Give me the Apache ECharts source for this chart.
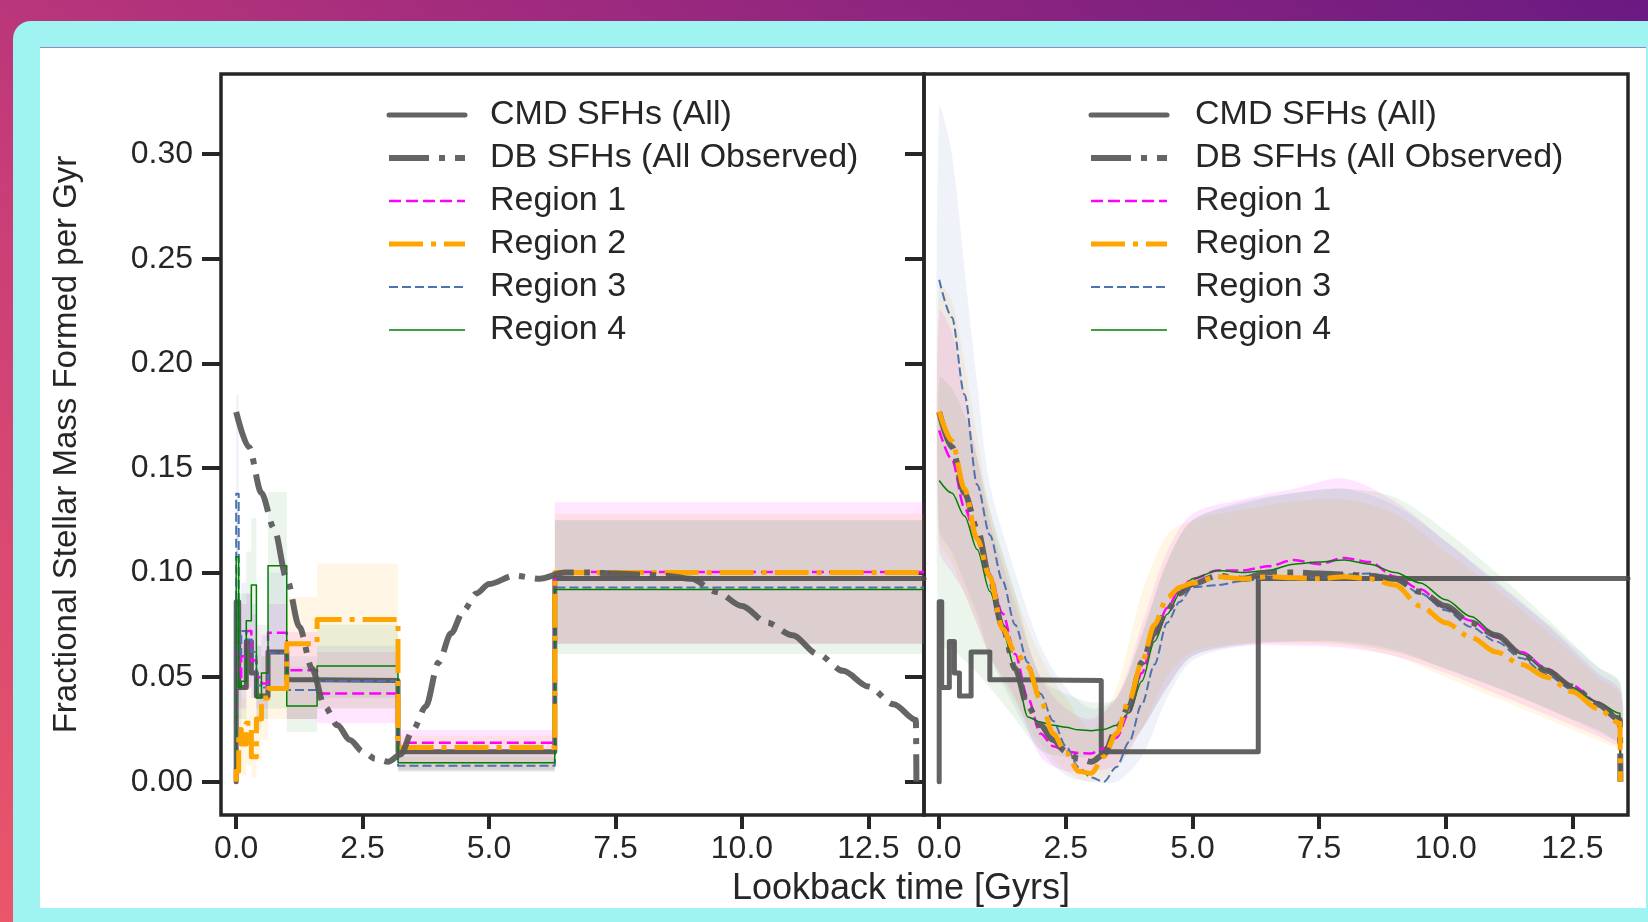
<!DOCTYPE html>
<html><head><meta charset="utf-8">
<script src="https://cdn.jsdelivr.net/npm/echarts@6.0.0/dist/echarts.min.js"></script>
<style>
html,body{margin:0;padding:0;width:1648px;height:922px;overflow:hidden;}
body{position:relative;background:linear-gradient(to top right,#ea566a 0%,#c93d78 40%,#a12b7e 65%,#6a1a82 100%);}
#card{position:absolute;left:13px;top:21px;right:0;bottom:0;background:#9ff4f1;border-top-left-radius:18px;}
#paper{position:absolute;left:40px;top:47px;width:1606px;height:861px;background:#fff;border-top:1px solid #9b86c4;box-sizing:border-box;}
#chart{position:absolute;left:0;top:0;width:1648px;height:922px;}
</style></head><body>
<div id="card"></div><div id="paper"></div><div id="chart"></div>
<script>
// ---------- data ----------
const yTicks = [0, 0.05, 0.10, 0.15, 0.20, 0.25, 0.30];
const xTicks = [0, 2.5, 5, 7.5, 10, 12.5];
const legendNames = ['CMD SFHs (All)', 'DB SFHs (All Observed)', 'Region 1', 'Region 2', 'Region 3', 'Region 4'];
const xTitle = 'Lookback time [Gyrs]';
const yTitle = 'Fractional Stellar Mass Formed per Gyr';

// CMD star formation histories: bin edges (Gyr) and value per bin
const binEdges = [0, 0.05, 0.1, 0.2, 0.3, 0.4, 0.5, 0.63, 1.0, 1.6, 3.2, 6.3, 13.6];
const cmdAll = [0.086, 0.045, 0.045, 0.067, 0.052, 0.041, 0.041, 0.062, 0.0488, 0.0484, 0.0143, 0.0972];
const cmdRegion1 = [0.065, 0.05, 0.06, 0.072, 0.058, 0.05, 0.047, 0.0712, 0.0533, 0.0422, 0.0186, 0.1003];
const cmdRegion2 = [0.005, 0.025, 0.018, 0.028, 0.012, 0.03, 0.04, 0.0446, 0.066, 0.0776, 0.0164, 0.100];
const cmdRegion3 = [0.1377, 0.06, 0.072, 0.068, 0.062, 0.046, 0.045, 0.0616, 0.0438, 0.0481, 0.0077, 0.0928];
const cmdRegion4 = [0.1075, 0.045, 0.048, 0.077, 0.094, 0.040, 0.052, 0.1032, 0.0362, 0.0553, 0.0091, 0.0919];
const cmdBand1Lo = [0.0, 0.03, 0.035, 0.045, 0.04, 0.035, 0.035, 0.045, 0.03, 0.0279, 0.0056, 0.066];
const cmdBand1Hi = [0.09, 0.08, 0.085, 0.09, 0.08, 0.075, 0.07, 0.085, 0.0716, 0.062, 0.0247, 0.1336];
const cmdBand2Lo = [0.0, 0.005, 0.003, 0.008, 0.002, 0.01, 0.02, 0.03, 0.03, 0.035, 0.006, 0.066];
const cmdBand2Hi = [0.03, 0.045, 0.04, 0.05, 0.04, 0.05, 0.06, 0.06, 0.0883, 0.1043, 0.022, 0.128];
const cmdBand3Lo = [0.03, 0.035, 0.045, 0.045, 0.04, 0.03, 0.03, 0.045, 0.03, 0.035, 0.0048, 0.066];
const cmdBand3Hi = [0.185, 0.09, 0.095, 0.09, 0.085, 0.065, 0.06, 0.1, 0.06, 0.065, 0.012, 0.125];
const cmdBand4Lo = [0.02, 0.025, 0.03, 0.05, 0.055, 0.025, 0.03, 0.035, 0.0239, 0.04, 0.005, 0.061];
const cmdBand4Hi = [0.13, 0.07, 0.09, 0.11, 0.126, 0.065, 0.075, 0.1385, 0.055, 0.075, 0.013, 0.125];

// DB (smooth) star formation histories
const dbTime = [0, 0.25, 0.5, 0.75, 1.0, 1.25, 1.5, 1.75, 2.0, 2.25, 2.5, 2.75, 3.0, 3.25, 3.5, 3.75, 4.0, 4.25, 4.5, 4.75, 5.0, 5.5, 6.0, 6.5, 7.0, 7.5, 8.0, 8.5, 9.0, 9.5, 10.0, 10.5, 11.0, 11.5, 12.0, 12.5, 13.0, 13.44, 13.45];
const dbAll = [0.1767, 0.160, 0.138, 0.121, 0.097, 0.074, 0.054, 0.036, 0.027, 0.020, 0.0145, 0.011, 0.0095, 0.013, 0.025, 0.036, 0.057, 0.071, 0.082, 0.090, 0.0945, 0.0985, 0.097, 0.100, 0.100, 0.0995, 0.099, 0.0985, 0.097, 0.0907, 0.084, 0.076, 0.070, 0.061, 0.053, 0.0455, 0.037, 0.0295, 0];
const dbRegion1 = [0.168, 0.154, 0.131, 0.115, 0.099, 0.0805, 0.061, 0.040, 0.023, 0.017, 0.0145, 0.0137, 0.0135, 0.016, 0.021, 0.033, 0.052, 0.070, 0.083, 0.092, 0.097, 0.101, 0.101, 0.103, 0.106, 0.104, 0.107, 0.105, 0.098, 0.092, 0.083, 0.077, 0.069, 0.062, 0.054, 0.046, 0.038, 0.031, 0];
const dbRegion2 = [0.177, 0.163, 0.140, 0.116, 0.098, 0.073, 0.062, 0.055, 0.039, 0.023, 0.014, 0.005, 0.004, 0.012, 0.023, 0.039, 0.057, 0.075, 0.088, 0.093, 0.095, 0.098, 0.097, 0.098, 0.0975, 0.097, 0.098, 0.097, 0.094, 0.084, 0.076, 0.069, 0.062, 0.056, 0.050, 0.043, 0.035, 0.028, 0];
const dbRegion3 = [0.240, 0.222, 0.185, 0.142, 0.118, 0.096, 0.075, 0.057, 0.042, 0.029, 0.017, 0.007, 0.002, 0.0, 0.007, 0.019, 0.037, 0.056, 0.076, 0.086, 0.093, 0.094, 0.096, 0.0975, 0.098, 0.0977, 0.099, 0.0995, 0.097, 0.090, 0.082, 0.074, 0.067, 0.059, 0.051, 0.044, 0.038, 0.031, 0];
const dbRegion4 = [0.144, 0.138, 0.127, 0.111, 0.091, 0.0724, 0.054, 0.031, 0.0285, 0.027, 0.026, 0.0248, 0.0244, 0.025, 0.027, 0.033, 0.048, 0.067, 0.080, 0.090, 0.097, 0.101, 0.100, 0.101, 0.104, 0.105, 0.106, 0.104, 0.100, 0.095, 0.087, 0.079, 0.070, 0.061, 0.053, 0.045, 0.038, 0.0327, 0];

// DB uncertainty bands
const bandTime = [0, 0.25, 0.5, 0.75, 1.0, 1.5, 2.0, 2.5, 3.0, 3.5, 4.0, 4.5, 5.0, 6.0, 7.0, 8.0, 9.0, 10.0, 11.0, 12.0, 13.0, 13.44];
const dbBand1Hi = [0.225, 0.215, 0.185, 0.155, 0.125, 0.085, 0.05, 0.035, 0.03, 0.04, 0.075, 0.11, 0.128, 0.135, 0.14, 0.145, 0.134, 0.115, 0.095, 0.075, 0.052, 0.044];
const dbBand1Lo = [0.11, 0.1, 0.09, 0.075, 0.06, 0.04, 0.012, 0.005, 0.005, 0.008, 0.025, 0.045, 0.06, 0.065, 0.065, 0.064, 0.06, 0.052, 0.042, 0.032, 0.022, 0.018];
const dbBand2Hi = [0.237, 0.23, 0.2, 0.165, 0.13, 0.09, 0.06, 0.04, 0.025, 0.045, 0.09, 0.118, 0.125, 0.13, 0.134, 0.135, 0.128, 0.11, 0.092, 0.072, 0.05, 0.042];
const dbBand2Lo = [0.115, 0.105, 0.09, 0.075, 0.06, 0.038, 0.018, 0.005, 0.0, 0.006, 0.025, 0.05, 0.062, 0.066, 0.066, 0.065, 0.06, 0.05, 0.04, 0.03, 0.02, 0.017];
const dbBand3Hi = [0.322, 0.30, 0.245, 0.19, 0.142, 0.1, 0.065, 0.045, 0.035, 0.04, 0.07, 0.105, 0.125, 0.134, 0.138, 0.14, 0.132, 0.115, 0.096, 0.076, 0.055, 0.048];
const dbBand3Lo = [0.12, 0.11, 0.095, 0.08, 0.06, 0.035, 0.015, 0.003, 0.0, 0.0, 0.012, 0.04, 0.058, 0.065, 0.067, 0.067, 0.063, 0.054, 0.045, 0.035, 0.024, 0.02];
const dbBand4Hi = [0.193, 0.188, 0.175, 0.155, 0.13, 0.09, 0.05, 0.042, 0.038, 0.04, 0.07, 0.105, 0.125, 0.133, 0.138, 0.14, 0.136, 0.12, 0.1, 0.078, 0.055, 0.047];
const dbBand4Lo = [0.065, 0.063, 0.058, 0.052, 0.045, 0.03, 0.015, 0.012, 0.012, 0.014, 0.025, 0.045, 0.06, 0.066, 0.067, 0.066, 0.062, 0.054, 0.045, 0.035, 0.025, 0.02];

// ---------- styles ----------
const FONT = "'Liberation Sans', Arial, Helvetica, sans-serif";
const TXT = '#262626';
const ST = {
  cmd: { color: 'rgba(72,72,72,0.85)', width: 5, type: 'solid', cap: 'round' },
  db:  { color: 'rgba(88,88,88,0.92)', width: 6, type: [40, 10, 6, 10] },
  r1:  { color: '#ff00ff', width: 2.5, type: [12, 5] },
  r2:  { color: '#ffa500', width: 5, type: [34, 8, 5, 8] },
  r3:  { color: '#4c72b0', width: 2, type: [9, 4] },
  r4:  { color: '#008000', width: 1.5, type: 'solid' }
};
const BAND = {
  r1: 'rgba(255,0,255,0.10)', r2: 'rgba(255,165,0,0.10)',
  r3: 'rgba(76,114,176,0.09)', r4: 'rgba(0,128,0,0.08)'
};

// ---------- helpers ----------
function steps(edges, vals) {
  const pts = [[edges[0], 0]];
  for (let i = 0; i < vals.length; i++) { pts.push([edges[i], vals[i]]); pts.push([edges[i + 1], vals[i]]); }
  return pts;
}
function stepBand(edges, lo, hi) {
  const up = [], dn = [];
  for (let i = 0; i < lo.length; i++) {
    up.push([edges[i], hi[i]], [edges[i + 1], hi[i]]);
    dn.push([edges[i], lo[i]], [edges[i + 1], lo[i]]);
  }
  return up.concat(dn.reverse());
}
function curveBand(t, lo, hi) {
  const up = t.map((x, i) => [x, hi[i]]);
  const dn = t.map((x, i) => [x, lo[i]]).reverse();
  return up.concat(dn);
}
function zip(t, v) { return t.map((x, i) => [x, v[i]]); }

function lineSeries(name, axis, data, st, extra) {
  return Object.assign({
    type: 'line', name: name, xAxisIndex: axis, yAxisIndex: axis, data: data,
    symbol: 'none', showSymbol: false, silent: true, clip: true, z: 3,
    lineStyle: { color: st.color, width: st.width, type: st.type, cap: st.cap || 'butt', join: 'round' },
    itemStyle: { color: st.color }
  }, extra || {});
}
function bandSeries(name, axis, poly, fill, smooth) {
  return {
    type: 'custom', name: name, xAxisIndex: axis, yAxisIndex: axis, silent: true, clip: true, z: 1,
    data: [[poly[0][0], poly[0][1]]],
    renderItem: function (params, api) {
      return {
        type: 'polygon',
        shape: { points: poly.map(p => api.coord(p)), smooth: smooth },
        style: { fill: fill, stroke: null }
      };
    }
  };
}

const series = [
  // left panel: CMD bands
  bandSeries('band L1', 0, stepBand(binEdges, cmdBand1Lo, cmdBand1Hi), BAND.r1, 0),
  bandSeries('band L2', 0, stepBand(binEdges, cmdBand2Lo, cmdBand2Hi), BAND.r2, 0),
  bandSeries('band L3', 0, stepBand(binEdges, cmdBand3Lo, cmdBand3Hi), BAND.r3, 0),
  bandSeries('band L4', 0, stepBand(binEdges, cmdBand4Lo, cmdBand4Hi), BAND.r4, 0),
  lineSeries(legendNames[0], 0, steps(binEdges, cmdAll), ST.cmd, { z: 2 }),
  lineSeries(legendNames[2], 0, steps(binEdges, cmdRegion1), ST.r1),
  lineSeries(legendNames[3], 0, steps(binEdges, cmdRegion2), ST.r2, { z: 4 }),
  lineSeries(legendNames[4], 0, steps(binEdges, cmdRegion3), ST.r3),
  lineSeries(legendNames[5], 0, steps(binEdges, cmdRegion4), ST.r4),
  lineSeries(legendNames[1], 0, zip(dbTime, dbAll), ST.db, { z: 5, smooth: 0.3, smoothMonotone: 'x' }),
  // right panel: DB bands
  bandSeries('band R1', 1, curveBand(bandTime, dbBand1Lo, dbBand1Hi), BAND.r1, 0.3),
  bandSeries('band R2', 1, curveBand(bandTime, dbBand2Lo, dbBand2Hi), BAND.r2, 0.3),
  bandSeries('band R3', 1, curveBand(bandTime, dbBand3Lo, dbBand3Hi), BAND.r3, 0.3),
  bandSeries('band R4', 1, curveBand(bandTime, dbBand4Lo, dbBand4Hi), BAND.r4, 0.3),
  lineSeries(legendNames[0], 1, steps(binEdges, cmdAll), ST.cmd, { z: 2 }),
  lineSeries(legendNames[2], 1, zip(dbTime, dbRegion1), ST.r1, { smooth: 0.3, smoothMonotone: 'x' }),
  lineSeries(legendNames[3], 1, zip(dbTime, dbRegion2), ST.r2, { z: 4, smooth: 0.3, smoothMonotone: 'x' }),
  lineSeries(legendNames[4], 1, zip(dbTime, dbRegion3), ST.r3, { smooth: 0.3, smoothMonotone: 'x' }),
  lineSeries(legendNames[5], 1, zip(dbTime, dbRegion4), ST.r4, { smooth: 0.3, smoothMonotone: 'x' }),
  lineSeries(legendNames[1], 1, zip(dbTime, dbAll), ST.db, { z: 3, smooth: 0.3, smoothMonotone: 'x' })
];

function legendAt(left, padLeft) {
  return {
    data: legendNames, orient: 'vertical', left: left, top: 98, padding: 0,
    itemWidth: 76, itemHeight: 14, itemGap: 9, selectedMode: false,
    itemStyle: { opacity: 0 },
    lineStyle: { width: 'inherit', opacity: 1 },
    textStyle: { fontSize: 34, fontFamily: FONT, color: TXT, lineHeight: 33, padding: [0, 0, 0, padLeft] }
  };
}
function xAx(i) {
  return {
    type: 'value', gridIndex: i, min: -0.3, max: 13.6,
    axisLine: { show: false, onZero: false }, splitLine: { show: false },
    axisTick: { show: true, inside: false, length: 14, lineStyle: { color: TXT, width: 4 }, customValues: xTicks },
    axisLabel: { show: true, margin: 18, fontSize: 32, fontFamily: FONT, color: TXT, customValues: xTicks,
      formatter: v => Number(v).toFixed(1) }
  };
}
function yAx(i) {
  const a = {
    type: 'value', gridIndex: i, min: -0.0159, max: 0.3383,
    axisLine: { show: false, onZero: false }, splitLine: { show: false },
    axisTick: { show: true, inside: false, length: 19, lineStyle: { color: TXT, width: 4 }, customValues: yTicks },
    axisLabel: { show: i === 0, margin: 28, fontSize: 32, fontFamily: FONT, color: TXT, customValues: yTicks,
      formatter: v => Number(v).toFixed(2) }
  };
  if (i === 0) {
    a.name = yTitle; a.nameLocation = 'middle'; a.nameGap = 138; a.nameRotate = 90;
    a.nameTextStyle = { fontSize: 33, fontFamily: FONT, color: TXT };
  }
  return a;
}

const option = {
  backgroundColor: 'transparent',
  animation: false,
  title: { text: xTitle, left: 901, top: 871, textAlign: 'center', padding: 0,
    textStyle: { fontSize: 36, fontWeight: 'normal', fontFamily: FONT, color: TXT, lineHeight: 36 } },
  legend: [legendAt(386, 20), legendAt(1088, 23)],
  grid: [
    { left: 221, top: 74, width: 703, height: 741, show: true, borderColor: TXT, borderWidth: 3.5, backgroundColor: 'transparent' },
    { left: 924, top: 74, width: 704, height: 741, show: true, borderColor: TXT, borderWidth: 3.5, backgroundColor: 'transparent' }
  ],
  xAxis: [xAx(0), xAx(1)],
  yAxis: [yAx(0), yAx(1)],
  series: series
};

const chart = echarts.init(document.getElementById('chart'), null, { renderer: 'canvas' });
chart.setOption(option);
</script></body></html>
